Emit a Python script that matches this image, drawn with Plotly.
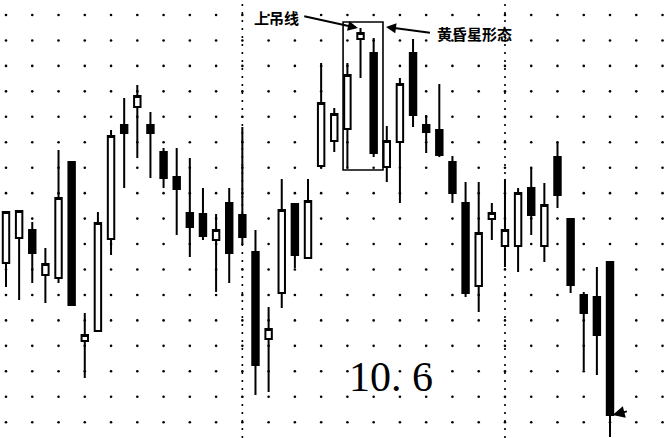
import numpy as np
import plotly.graph_objects as go

# Daily candles (units: chart height, bottom = 0).
day = list(range(47))
open_ = [175, 200, 208, 163, 160, 276, 97, 107, 199, 313, 331, 313, 286, 261, 225, 224, 198, 235, 223, 186,
         99, 145, 234, 180, 272, 297, 309, 399, 385, 271, 296, 385, 313, 308, 276, 235, 152, 219, 192, 192,
         250, 192, 281, 219, 143, 141, 176]
high_ = [226, 227, 216, 190, 288, 276, 125, 226, 308, 340, 353, 326, 290, 290, 280, 250, 224, 250, 311, 208,
         131, 259, 235, 259, 375, 330, 375, 410, 400, 312, 360, 399, 323, 354, 282, 256, 256, 235, 259, 250,
         270, 255, 295, 219, 146, 171, 176]
low_ = [151, 138, 155, 135, 155, 133, 60, 107, 183, 250, 280, 260, 250, 203, 181, 198, 146, 155, 195, 43,
        46, 130, 170, 180, 272, 286, 271, 360, 281, 256, 235, 311, 285, 281, 235, 141, 126, 198, 171, 166,
        203, 176, 230, 145, 68, 63, 1]
close_ = [226, 227, 185, 174, 240, 133, 103, 215, 302, 305, 342, 305, 260, 249, 211, 202, 208, 185, 201, 73,
          109, 228, 183, 237, 335, 324, 363, 405, 285, 297, 354, 323, 306, 283, 245, 145, 205, 225, 208, 245,
          223, 233, 243, 153, 125, 103, 23]

grid_x = np.arange(0, 51, 2)
grid_y = 423 - 25.45 * np.arange(17)
month_breaks = [18, 38]

x_range = [-0.457, 50.34]
y_range = [0, 438]

fig = go.Figure()

# dotted grid: a dot at every intersection (bottom axis pair)
gx, gy = np.meshgrid(grid_x, grid_y)
fig.add_trace(go.Scatter(x=gx.ravel(), y=gy.ravel(), mode="markers",
                         marker=dict(size=2.6, color="black"), hoverinfo="skip"))

# candles on an overlaying axis pair so they cover the grid dots
fig.add_trace(go.Candlestick(
    x=day, open=open_, high=high_, low=low_, close=close_, xaxis="x2", yaxis="y2",
    increasing=dict(line=dict(color="black", width=2), fillcolor="white"),
    decreasing=dict(line=dict(color="black", width=2), fillcolor="black"),
))

for m in month_breaks:
    fig.add_shape(type="line", x0=m, x1=m, y0=0, y1=438,
                  line=dict(color="black", width=1.6, dash="2px,6px"), layer="below")

# box around the evening star
fig.add_shape(type="rect", x0=25.67, x1=28.71, y0=268, y1=416,
              line=dict(color="black", width=1.6))

cjk = dict(family="Noto Sans CJK SC", size=15, color="black")
arrow = dict(showarrow=True, arrowhead=2, arrowcolor="black", axref="x", ayref="y", text="")
fig.add_annotation(x=26.8, y=410, ax=22.6, ay=422, arrowsize=1, arrowwidth=2, **arrow)
fig.add_annotation(x=22.5, y=421, text="<b>上吊线</b>", showarrow=False, xanchor="right", font=cjk)
fig.add_annotation(x=28.94, y=411, ax=32.4, ay=405, arrowsize=1, arrowwidth=2, **arrow)
fig.add_annotation(x=32.7, y=405, text="<b>黄昏星形态</b>", showarrow=False, xanchor="left", font=cjk)
fig.add_annotation(x=46.2, y=23, ax=47.4, ay=27, arrowsize=1.2, arrowwidth=2, **arrow)

fig.add_annotation(x=29.3, y=61, text="10. 6", showarrow=False,
                   font=dict(family="Liberation Serif", size=42, color="black"))

fig.update_layout(
    width=667, height=438, margin=dict(l=0, r=0, t=0, b=0),
    plot_bgcolor="white", paper_bgcolor="white", showlegend=False,
    xaxis=dict(range=x_range, visible=False, rangeslider=dict(visible=False)),
    yaxis=dict(range=y_range, visible=False),
    xaxis2=dict(range=x_range, visible=False, overlaying="x", rangeslider=dict(visible=False)),
    yaxis2=dict(range=y_range, visible=False, overlaying="y"),
)

fig.write_html("out.html", config={"displayModeBar": False},
               post_script="document.body.style.margin='0';")
